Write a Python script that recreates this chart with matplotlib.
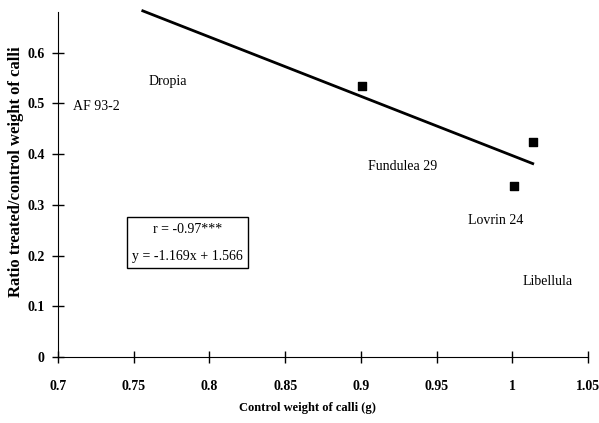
import matplotlib
matplotlib.use("Agg")
import matplotlib.pyplot as plt

# control weight of calli (g) vs ratio treated/control
ctrl_weight = [0.901, 1.001, 1.014]
ratio = [0.535, 0.338, 0.423]

# regression line y = -1.169x + 1.566, drawn over this x span
slope = -1.169
intercept = 1.566
fit_x = [0.756, 1.0135]

# genotype labels (placed as text in the plot)
names = ["AF 93-2", "Dropia", "Fundulea 29", "Lovrin 24", "Libellula"]
name_x = [0.710, 0.760, 0.905, 0.971, 1.0065]
name_y = [0.494, 0.543, 0.376, 0.270, 0.148]

xticks = [0.7, 0.75, 0.8, 0.85, 0.9, 0.95, 1.0, 1.05]
xticklabels = ["0.7", "0.75", "0.8", "0.85", "0.9", "0.95", "1", "1.05"]
yticks = [0, 0.1, 0.2, 0.3, 0.4, 0.5, 0.6]
yticklabels = ["0", "0.1", "0.2", "0.3", "0.4", "0.5", "0.6"]

plt.rcParams["font.family"] = ["Liberation Serif", "DejaVu Serif"]

fig = plt.figure(figsize=(5.99, 4.23), dpi=100)
ax = fig.add_axes([58/599, 1 - 357/423, 530/599, 345/423])

fit_y = [slope * v + intercept for v in fit_x]
ax.plot(fit_x, fit_y, color="black", lw=2, clip_on=False, zorder=2)
ax.scatter(ctrl_weight, ratio, marker="s", s=40, color="black", zorder=3)

for n, x, y in zip(names, name_x, name_y):
  ax.text(x, y, n, fontsize=10, ha="left", va="center")

# stats box
ax.text(0.7855, 0.2254, "r = -0.97***\ny = -1.169x + 1.566", fontsize=10,
        ha="center", va="center", linespacing=2.4,
        bbox=dict(boxstyle="square,pad=0.4", fc="white", ec="black", lw=1))

ax.set_xlim(0.7, 1.05)
ax.set_ylim(0, 0.68)
ax.set_xticks(xticks)
ax.set_xticklabels(xticklabels, fontweight="bold", fontsize=10)
ax.set_yticks(yticks)
ax.set_yticklabels(yticklabels, fontweight="bold", fontsize=10)
ax.tick_params(direction="inout", length=9, width=1)
ax.tick_params(axis="x", pad=12)
ax.tick_params(axis="y", pad=5)
ax.spines["top"].set_visible(False)
ax.spines["right"].set_visible(False)

fig.text(307/599, 1 - 408/423, "Control weight of calli (g)", fontsize=9,
         fontweight="bold", ha="center", va="center")
fig.text(16/599, 1 - 297/423, "Ratio treated/control weight of calli",
         fontsize=12, fontweight="bold", rotation=90, ha="center", va="bottom")

fig.savefig("out.png", dpi=100)
